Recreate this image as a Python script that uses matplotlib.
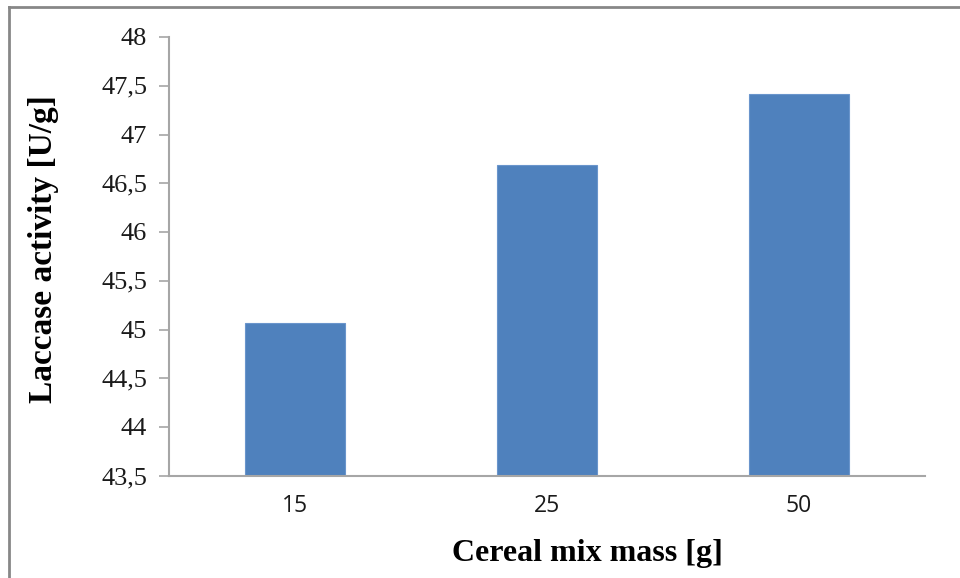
import matplotlib
matplotlib.use("Agg")
import matplotlib.pyplot as plt
from matplotlib.lines import Line2D
from matplotlib import transforms as mtransforms

plt.rcParams["font.family"] = ["Liberation Serif", "DejaVu Serif"]

categories = ["15", "25", "50"]
values = [45.07, 46.69, 47.42]
y_ticks = [43.5, 44, 44.5, 45, 45.5, 46, 46.5, 47, 47.5, 48]
y_tick_labels = ["43,5", "44", "44,5", "45", "45,5", "46", "46,5", "47", "47,5", "48"]

W, H = 960, 578
fig = plt.figure(figsize=(W / 100, H / 100), dpi=100)
fig.patch.set_facecolor("white")

# outer chart frame (left and top edges visible)
fig.add_artist(Line2D([9 / W, 9 / W], [0, 1 - 7 / H], transform=fig.transFigure,
                      color="#878787", lw=2))
fig.add_artist(Line2D([9 / W, 1], [1 - 7 / H, 1 - 7 / H], transform=fig.transFigure,
                      color="#878787", lw=2))

ax = fig.add_axes([169 / W, 1 - 476 / H, (925 - 169) / W, (476 - 37) / H])
x = list(range(len(categories)))
ax.bar(x, values, width=0.4, color="#4F81BD", edgecolor="#6A95CC", linewidth=0.8,
       zorder=2)
ax.set_xlim(-0.5, len(categories) - 0.5)
ax.set_ylim(43.5, 48)
ax.set_yticks(y_ticks)
ax.set_xticks(x)
ax.set_xticklabels(categories, fontfamily="Open Sans", fontsize=16.5)

for s in ["top", "right"]:
    ax.spines[s].set_visible(False)
for s in ["left", "bottom"]:
    ax.spines[s].set_color("#A6A6A6")
    ax.spines[s].set_linewidth(1.5)

ax.tick_params(axis="y", direction="out", length=7, color="#A6A6A6", width=1.2,
               labelleft=False)
ax.tick_params(axis="x", length=0, pad=13, labelcolor="#1a1a1a")

# y tick labels in serif font, placed at the tick positions
ytrans = mtransforms.offset_copy(
    mtransforms.blended_transform_factory(ax.transAxes, ax.transData),
    fig=fig, x=-22, y=-2, units="dots")
for v, lab in zip(y_ticks, y_tick_labels):
    ax.text(0, v, lab, transform=ytrans, ha="right", va="center",
            fontfamily="Liberation Serif", fontsize=19, color="#1a1a1a", clip_on=False)

fig.text(44 / W, 1 - 249 / H, "Laccase activity [U/g]", rotation=90, ha="center",
         va="center", fontfamily="Liberation Serif", fontweight="bold", fontsize=24)
fig.text(587 / W, 1 - 553 / H, "Cereal mix mass [g]", ha="center", va="center",
         fontfamily="Liberation Serif", fontweight="bold", fontsize=23)

fig.savefig("out.png", dpi=100, facecolor="white")
